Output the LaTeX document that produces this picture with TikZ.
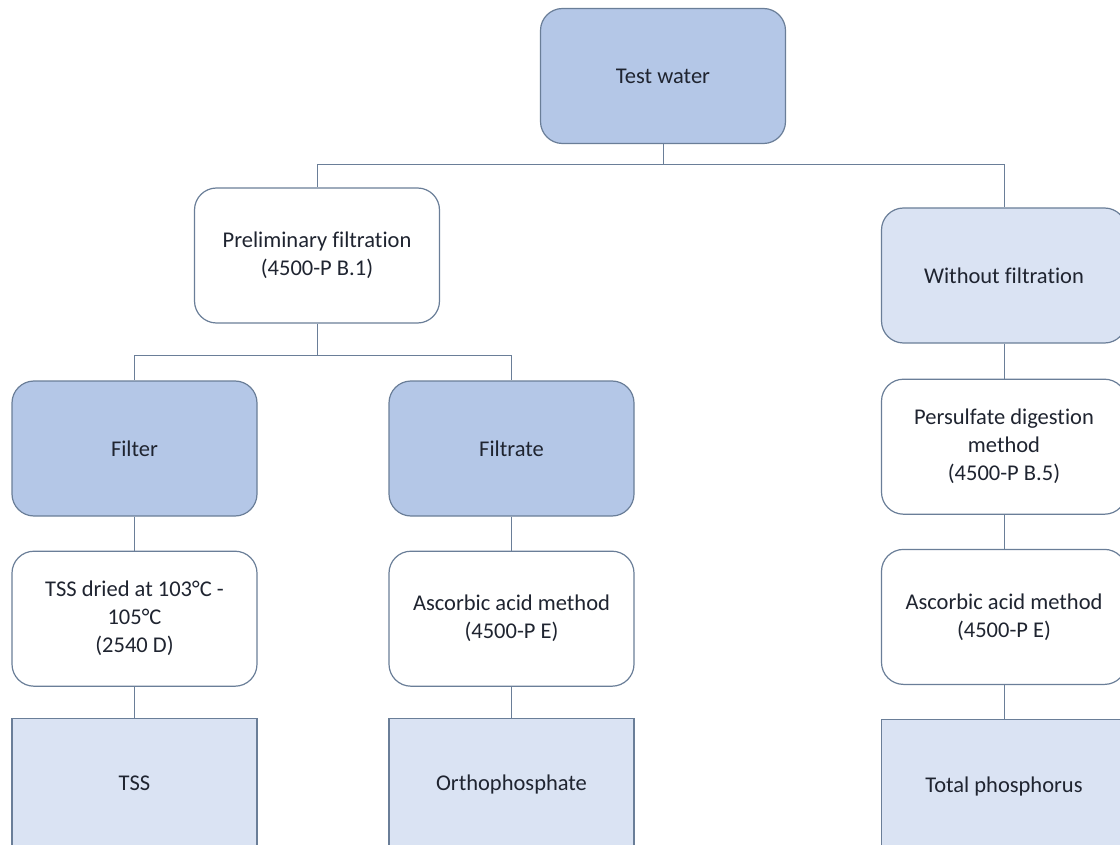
\documentclass[tikz,border=0pt]{standalone}
\usepackage{fontspec}
\setmainfont{Carlito}[Ligatures={NoCommon}, RawFeature={-liga}]
\usetikzlibrary{positioning, calc}
\definecolor{boxline}{HTML}{6A7E98}
\definecolor{darkfill}{HTML}{B4C7E7}
\definecolor{lightfill}{HTML}{DAE3F3}
\definecolor{boxtext}{HTML}{1F2430}
\tikzset{
    step box/.style={rectangle, draw=boxline, line width=1.2pt, rounded corners=22pt, minimum width=245pt, minimum height=135pt, align=center, text=boxtext, font=\fontsize{22.5}{28}\selectfont},
    dark box/.style={step box, fill=darkfill},
    white box/.style={step box, fill=white},
    light box/.style={step box, fill=lightfill},
    result box/.style={step box, fill=lightfill, rounded corners=0pt, text height=15pt, text depth=5pt},
    link/.style={draw=boxline, line width=1pt}
}

\begin{document}
\begin{tikzpicture}[x=1pt, y=-1pt]
    \useasboundingbox (0,0) rectangle (1120,845);

    \node[dark box] (test) at (663,76) {Test water};
    \node[white box] (prelim) at (317,255.5) {Preliminary filtration\\(4500-P B.1)};
    \node[light box] (without) at (1004,275.5) {Without filtration};

    \node[dark box] (filter) at (134.5,448.5) {Filter};
    \node[dark box] (filtrate) at (511.5,448.5) {Filtrate};
    \node[white box, below=34pt of filter] (tssdried) {TSS dried at 103°C -\\105°C\\(2540 D)};
    \node[white box, below=34pt of filtrate] (ascorbic1) {Ascorbic acid method\\(4500-P E)};
    \node[result box, below=31pt of tssdried] (tss) {TSS};
    \node[result box, below=31pt of ascorbic1] (ortho) {Orthophosphate};

    \node[white box, below=35pt of without] (persulfate) {Persulfate digestion\\method\\(4500-P B.5)};
    \node[white box, below=34pt of persulfate] (ascorbic2) {Ascorbic acid method\\(4500-P E)};
    \node[result box, below=34pt of ascorbic2] (total) {Total phosphorus};

    \draw[link] (test.south) -- ++(0,20) coordinate (fork1) -| (prelim.north);
    \draw[link] (fork1) -| (without.north);
    \draw[link] (prelim.south) -- ++(0,32) coordinate (fork2) -| (filter.north);
    \draw[link] (fork2) -| (filtrate.north);
    \draw[link] (filter) -- (tssdried);
    \draw[link] (tssdried) -- (tss);
    \draw[link] (filtrate) -- (ascorbic1);
    \draw[link] (ascorbic1) -- (ortho);
    \draw[link] (without) -- (persulfate);
    \draw[link] (persulfate) -- (ascorbic2);
    \draw[link] (ascorbic2) -- (total);
\end{tikzpicture}
\end{document}
